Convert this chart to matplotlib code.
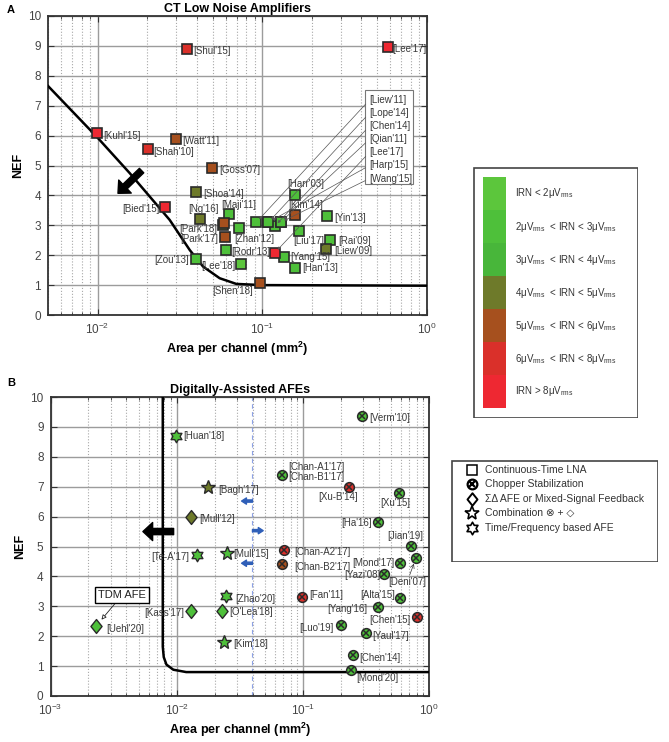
import numpy as np
import matplotlib
matplotlib.use('Agg')
import matplotlib.pyplot as plt
from matplotlib.path import Path
from matplotlib.patches import Rectangle

plt.rcParams['font.family'] = ['Liberation Sans', 'DejaVu Sans']
plt.rcParams['mathtext.fontset'] = 'custom'
plt.rcParams['mathtext.rm'] = 'Liberation Sans'
plt.rcParams['mathtext.it'] = 'Liberation Sans:italic'
plt.rcParams['mathtext.bf'] = 'Liberation Sans:bold'

# ---------------- panel A: CT low noise amplifiers ----------------
# IRN class: 1 <2uV, 2 2-3, 3 3-4, 4 4-5, 5 5-6, 6 6-8, 7 >8
lna_names = ["Shul'15", "Lee'17", "Kuhl'15", "Watt'11", "Shah'10", "Goss'07",
             "Shoa'14", "Bied'15", "Ng'16", "Maji'11", "", "Park'18", "Park'17",
             "Zhan'12", "Rodr'13", "Lee'18", "Zou'13", "Shen'18", "Harr'03",
             "Kim'14", "Yin'13", "Liu'17", "Rai'09", "Liew'09", "Yang'15", "Han'13"]
lna_area = [0.035, 0.577, 0.0099, 0.0301, 0.0201, 0.0498,
            0.0398, 0.0257, 0.0417, 0.0625, 0.0575, 0.0582, 0.0593,
            0.0718, 0.0598, 0.0739, 0.0398, 0.0964, 0.158,
            0.158, 0.248, 0.168, 0.257, 0.245, 0.136, 0.159]
lna_nef = [8.9, 8.97, 6.1, 5.9, 5.55, 4.9,
           4.12, 3.6, 3.2, 3.38, 3.0, 3.07, 2.6,
           2.9, 2.17, 1.7, 1.88, 1.08, 4.01,
           3.33, 3.31, 2.81, 2.5, 2.2, 1.93, 1.58]
lna_irn = [6, 7, 7, 5, 6, 5,
           4, 7, 4, 2, 4, 5, 5,
           2, 2, 1, 2, 5, 2,
           5, 2, 2, 2, 4, 2, 2]
# label offsets (pixels) and alignment
lna_lab = [(6, -2, 'left'), (5, -2, 'left'), (6, -3, 'left'), (6, -2, 'left'),
           (6, -3, 'left'), (7, -2, 'left'), (7, -2, 'left'), (-5, -2, 'right'),
           (4, 10, 'center'), (-7, 9, 'left'), (0, 0, 'left'), (-6, -6, 'right'),
           (-7, -2, 'right'), (-4, -11, 'left'), (6, -2, 'left'), (-5, -2, 'right'),
           (-7, -1, 'right'), (-7, -8, 'right'), (-8, 11, 'left'), (-7, 10, 'left'),
           (7, -2, 'left'), (-6, -10, 'left'), (8, -1, 'left'), (8, -2, 'left'),
           (6, 0, 'left'), (7, 0, 'left')]

# points labelled through the boxed list
box_names = ["Liew'11", "Lope'14", "Chen'14", "Qian'11", "Lee'17", "Harp'15", "Wang'15"]
box_area = [0.092, 0.109, 0.119, 0.129, 0.119, 0.109, 0.129]
box_nef = [3.1, 3.1, 2.97, 3.1, 2.08, 3.1, 3.1]
box_irn = [2, 2, 2, 2, 7, 2, 2]

# limit curve, panel A
curve_a_x = [0.005, 0.01, 0.0157, 0.0274, 0.0363, 0.0437, 0.0551, 0.0695, 0.1, 1.0]
curve_a_y = [7.66, 5.93, 4.74, 3.18, 2.17, 1.62, 1.23, 1.04, 1.0, 0.98]

irn_labels = ['IRN < 2μV$_{\\rm rms}$',
              '2μV$_{\\rm rms}$  < IRN < 3μV$_{\\rm rms}$',
              '3μV$_{\\rm rms}$  < IRN < 4μV$_{\\rm rms}$',
              '4μV$_{\\rm rms}$  < IRN < 5μV$_{\\rm rms}$',
              '5μV$_{\\rm rms}$  < IRN < 6μV$_{\\rm rms}$',
              '6μV$_{\\rm rms}$  < IRN < 8μV$_{\\rm rms}$',
              'IRN > 8μV$_{\\rm rms}$']
irn_colors = {1: '#5cc63c', 2: '#4ec03a', 3: '#48b63a', 4: '#6e7a2a',
              5: '#a6501e', 6: '#da302a', 7: '#ee2832'}

# ---------------- panel B: digitally-assisted AFEs ----------------
afe_names = ["Huan'18", "Bagh'17", "Mull'12", "Te-A'17", "Mull'15", "Verm'10",
             "Chan-A1'17/Chan-B1'17", "Xu-B'14", "Xu'15", "Ha'16", "Jian'19",
             "Chan-A2'17", "Chan-B2'17", "Deni'07", "Mond'17", "Yazi'08",
             "Zhao'20", "O'Lea'18", "Kim'18", "Fan'11", "Alta'15", "Yang'16",
             "Chen'15", "Luo'19", "Yaul'17", "Chen'14", "Mond'20", "Uehl'20", "Kass'17"]
afe_area = [0.0099, 0.0178, 0.0129, 0.0144, 0.0249, 0.296,
            0.0682, 0.233, 0.574, 0.394, 0.715,
            0.0704, 0.0682, 0.787, 0.588, 0.441,
            0.0244, 0.0227, 0.0237, 0.0989, 0.588, 0.395,
            0.806, 0.1995, 0.3145, 0.248, 0.239, 0.0023, 0.0129]
afe_nef = [8.7, 7.0, 6.0, 4.72, 4.77, 9.37,
           7.39, 6.98, 6.8, 5.83, 5.02,
           4.88, 4.41, 4.6, 4.44, 4.08,
           3.34, 2.84, 1.82, 3.3, 3.29, 2.99,
           2.63, 2.37, 2.1, 1.37, 0.87, 2.34, 2.85]
afe_type = ['tf', 'comb', 'sd', 'tf', 'comb', 'chop',
            'chop', 'chop', 'chop', 'chop', 'chop',
            'chop', 'chop', 'chop', 'chop', 'chop',
            'tf', 'sd', 'comb', 'chop', 'chop', 'chop',
            'chop', 'chop', 'chop', 'chop', 'chop', 'sd', 'sd']
afe_irn = [2, 4, 4, 2, 2, 2,
           2, 6, 2, 2, 2,
           6, 5, 2, 2, 2,
           2, 2, 2, 6, 2, 2,
           6, 2, 2, 2, 2, 2, 2]
afe_lab = [(7, 0, 'left'), (10, -3, 'left'), (9, -2, 'left'), (-7, -2, 'right'),
           (7, -1, 'left'), (7, -2, 'left'), (6, 3, 'left'), (-11, -10, 'center'),
           (-3, -10, 'center'), (-6, -1, 'right'), (-5, 10, 'center'), (11, -2, 'left'),
           (12, -3, 'left'), (-9, -24, 'center'), (-5, 0, 'right'), (-4, -1, 'right'),
           (10, -3, 'left'), (8, -1, 'left'), (9, -2, 'left'), (7, 2, 'left'),
           (-5, 3, 'right'), (-11, -2, 'right'), (-7, -3, 'right'), (-7, -3, 'right'),
           (7, -3, 'left'), (7, -3, 'left'), (6, -8, 'left'), (10, -3, 'left'),
           (-6, -2, 'right')]

# limit curve, panel B
curve_b_x = [0.00776, 0.00776, 0.0079, 0.0083, 0.0094, 0.0119, 1.0]
curve_b_y = [10.0, 1.65, 1.3, 1.05, 0.88, 0.8, 0.8]

legend_b = ['Continuous-Time LNA', 'Chopper Stabilization',
            'ΣΔ AFE or Mixed-Signal Feedback', 'Combination ⊗ + ◇',
            'Time/Frequency based AFE']

W, H = 669, 742
fig = plt.figure(figsize=(W / 100, H / 100), dpi=100)


def px_axes(x0, y0, x1, y1):
    return fig.add_axes([x0 / W, 1 - y1 / H, (x1 - x0) / W, (y1 - y0) / H])


ang = np.deg2rad(90 + 30 * np.arange(13))
rad = np.where(np.arange(13) % 2 == 0, 1.0, 1 / np.sqrt(3))
hexagram = Path(np.column_stack([rad * np.cos(ang), rad * np.sin(ang)]), closed=True)
diamond = Path([(0, 1), (0.8, 0), (0, -1), (-0.8, 0), (0, 1)], closed=True)

EDGE = '#2a2a2a'
LAB = '#3a3a3a'


def style_axes(ax, xmin):
    ax.set_xscale('log')
    ax.set_xlim(xmin, 1)
    ax.set_ylim(0, 10)
    ax.set_yticks(range(11))
    ax.grid(which='major', color='#9c9c9c', lw=1.0, ls='-')
    ax.grid(which='minor', axis='x', color='#a8a8a8', lw=0.8, ls=':')
    ax.set_axisbelow(True)
    ax.tick_params(which='both', direction='in', top=True, right=True,
                   labelsize=8.5, colors='#333333', labelcolor='#444444')
    ax.tick_params(which='major', length=4, pad=5)
    ax.tick_params(which='minor', length=2.5)
    for s in ax.spines.values():
        s.set_color('#333333')
        s.set_linewidth(1.3)
    ax.set_ylabel('NEF', fontsize=9, fontweight='bold', labelpad=3)
    ax.set_xlabel('Area per channel (mm$\\mathbf{^2}$)', fontsize=9,
                  fontweight='bold', labelpad=2)


# ---- panel A ----
axa = px_axes(48, 16, 427, 315)
style_axes(axa, 0.005)
axa.set_title('CT Low Noise Amplifiers', fontsize=9, fontweight='bold', pad=3)
axa.plot(curve_a_x, curve_a_y, color='k', lw=1.8, zorder=3)
axa.annotate('', xy=(0.0133, 4.07), xytext=(0.0185, 4.83),
             arrowprops=dict(facecolor='k', edgecolor='k', width=4.5,
                             headwidth=13, headlength=7))

for i, n in enumerate(lna_names):
    axa.plot(lna_area[i], lna_nef[i], 's', ms=6.5, mfc=irn_colors[lna_irn[i]],
             mec=EDGE, mew=1.2, zorder=5)
    if n:
        dx, dy, ha = lna_lab[i]
        axa.annotate('[%s]' % n, (lna_area[i], lna_nef[i]), xytext=(dx, dy),
                     textcoords='offset pixels', ha=ha, va='center',
                     fontsize=7, color=LAB, zorder=6)

box_x = 10 ** ((370 - 97.7) / 165 - 2)
box_y0 = 7.19
axa.add_patch(Rectangle((10 ** ((366 - 97.7) / 165 - 2), 4.37),
                        10 ** ((414 - 97.7) / 165 - 2) - 10 ** ((366 - 97.7) / 165 - 2),
                        3.16, fc='white', ec='#777777', lw=0.8, zorder=4))
for i, n in enumerate(box_names):
    axa.plot(box_area[i], box_nef[i], 's', ms=6.5, mfc=irn_colors[box_irn[i]],
             mec=EDGE, mew=1.2, zorder=5)
    axa.annotate('[%s]' % n, (box_area[i], box_nef[i]),
                 xytext=(box_x, box_y0 - 0.438 * i), ha='left', va='center',
                 fontsize=7, color=LAB, zorder=6,
                 arrowprops=dict(arrowstyle='-|>', color='#555555', lw=0.5,
                                 mutation_scale=4, relpos=(0, 0.5),
                                 shrinkA=1, shrinkB=3))

# legend A
la = px_axes(473, 167, 638, 418)
la.set_xlim(473, 638)
la.set_ylim(418, 167)
la.axis('off')
la.add_patch(Rectangle((473.5, 167.5), 164, 250, fc='white', ec='#444444', lw=1.2))
for k, t in enumerate(irn_labels):
    y0 = 177 + 33 * k
    la.add_patch(Rectangle((483, y0), 23, 33, fc=irn_colors[k + 1], ec='none'))
    la.text(515, y0 + 16.5, t, fontsize=7, va='center', ha='left', color='#333333')

# ---- panel B ----
axb = px_axes(50.5, 397, 429, 696)
style_axes(axb, 0.001)
axb.set_title('Digitally-Assisted AFEs', fontsize=9, fontweight='bold', pad=3)
axb.axvline(0.0399, color='#8da2e6', lw=0.8, ls=(0, (4, 3)), zorder=1)
axb.plot(curve_b_x, curve_b_y, color='k', lw=1.8, zorder=3)
axb.annotate('', xy=(0.0054, 5.5), xytext=(0.00946, 5.5),
             arrowprops=dict(facecolor='k', edgecolor='k', width=4.5,
                             headwidth=13, headlength=7))
for (x0, x1, yy) in [(0.0399, 0.0327, 6.52), (0.0399, 0.0485, 5.53), (0.0399, 0.0327, 4.44)]:
    axb.annotate('', xy=(x1, yy), xytext=(x0, yy),
                 arrowprops=dict(facecolor='#2f5fb8', edgecolor='#2f5fb8',
                                 width=1.6, headwidth=4.5, headlength=3.5))

marker_of = {'sd': diamond, 'comb': '*', 'tf': hexagram}
ms_of = {'sd': 10, 'comb': 10, 'tf': 9}
for i, n in enumerate(afe_names):
    x, y, c = afe_area[i], afe_nef[i], irn_colors[afe_irn[i]]
    if afe_type[i] == 'chop':
        axb.plot(x, y, 'o', ms=7, mfc=c, mec=EDGE, mew=1.1, zorder=5)
        axb.plot(x, y, 'x', ms=4.6, mec=EDGE, mew=1.1, zorder=6)
    else:
        axb.plot(x, y, marker=marker_of[afe_type[i]], ms=ms_of[afe_type[i]],
                 mfc=c, mec=EDGE, mew=1.0, ls='none', zorder=5)
    dx, dy, ha = afe_lab[i]
    lab = '\n'.join('[%s]' % p for p in n.split('/'))
    ap = None
    if n == "Deni'07":
        ap = dict(arrowstyle='->', color='#333333', lw=0.5, shrinkA=0, shrinkB=4)
    axb.annotate(lab, (x, y), xytext=(dx, dy), textcoords='offset pixels',
                 ha=ha, va='center', fontsize=7, color=LAB, zorder=6,
                 linespacing=1.1, arrowprops=ap)

axb.annotate('TDM AFE', (afe_area[27], afe_nef[27]), xytext=(26, 31),
             textcoords='offset pixels', ha='center', va='center', fontsize=8,
             color='#222222', zorder=7,
             bbox=dict(boxstyle='square,pad=0.25', fc='white', ec='k', lw=1.0),
             arrowprops=dict(arrowstyle='-|>', fc='white', ec='#222222', lw=0.6,
                             shrinkA=0, shrinkB=6, mutation_scale=7))

# legend B
lb = px_axes(451, 460, 658, 562)
lb.set_xlim(451, 658)
lb.set_ylim(562, 460)
lb.axis('off')
lb.add_patch(Rectangle((451.5, 460.5), 206, 101, fc='white', ec='#444444', lw=1.2))
ys = [470 + 14.4 * k for k in range(5)]
lb.plot(472, ys[0], 's', ms=7, mfc='white', mec='k', mew=1.1)
lb.plot(472, ys[1], 'o', ms=7, mfc='white', mec='k', mew=1.6)
lb.plot(472, ys[1], 'x', ms=4.4, mec='k', mew=1.6)
lb.plot(472, ys[2], marker=diamond, ms=9, mfc='white', mec='k', mew=1.4)
lb.plot(472, ys[3], '*', ms=10, mfc='white', mec='k', mew=1.2)
lb.plot(472, ys[4], marker=hexagram, ms=9, mfc='white', mec='k', mew=1.2)
for k, t in enumerate(legend_b):
    lb.text(485, ys[k], t, fontsize=7.5, va='center', ha='left', color='#333333')

fig.text(7 / W, 1 - 10 / H, 'A', fontsize=8, fontweight='bold', va='center')
fig.text(7 / W, 1 - 383 / H, 'B', fontsize=8, fontweight='bold', va='center')

fig.savefig('out.png', dpi=100)
